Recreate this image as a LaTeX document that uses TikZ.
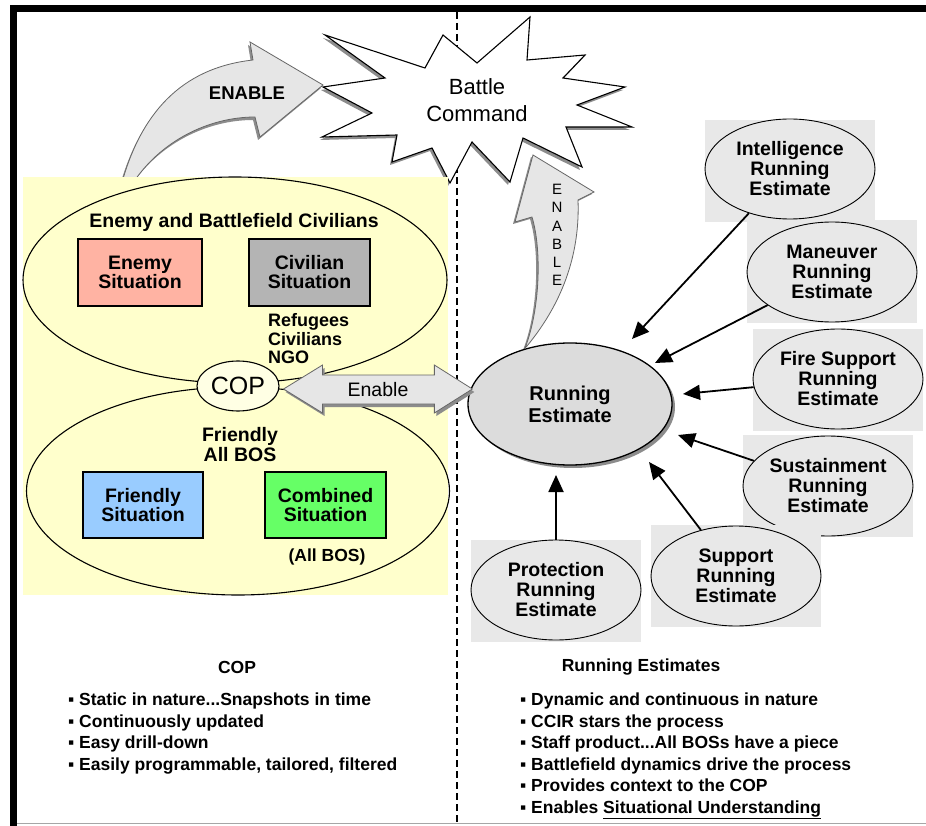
\documentclass[tikz,border=0pt]{standalone}
\usepackage{fontspec}
\setmainfont{Liberation Sans}
\usetikzlibrary{shapes.geometric,arrows.meta,calc}
\definecolor{panelyellow}{HTML}{FFFFCC}
\definecolor{copfill}{HTML}{FFFFE4}
\definecolor{enemyfill}{HTML}{FFB3A3}
\definecolor{civfill}{HTML}{B4B4B4}
\definecolor{friendfill}{HTML}{99CCFF}
\definecolor{combfill}{HTML}{66FF66}
\definecolor{satfill}{HTML}{E8E8E8}
\definecolor{refill}{HTML}{DCDCDC}
\definecolor{arrowfill}{HTML}{E6E6E6}
\definecolor{shadowgrey}{HTML}{8C8C8C}
\def\burstpth{(325,35) -- (425,68) -- (443,35) -- (477,63) -- (530,17) -- (527,60) -- (585,55) -- (563,78) -- (625,87) -- (577,105) -- (632,127) -- (566,127) -- (582,167) -- (523,138) -- (510,182) -- (472,142) -- (450,183) -- (432,148) -- (392,162) -- (397,135) -- (322,137) -- (372,113) -- (323,87) -- (385,78) -- cycle}
\def\topenablepth{(121,186) .. controls (140,115) and (180,68) .. (253,60) -- (250,42) -- (323,85) -- (260,137) -- (255,117) .. controls (210,117) and (160,140) .. (131,186) -- cycle}
\def\upenablepth{(525,348) .. controls (540,310) and (542,250) .. (532,217) -- (515,222) -- (533,155) -- (594,192) -- (578,200) .. controls (580,250) and (565,300) .. (527,346) -- cycle}
\def\dblpth{(enL) -- ++(39,-24) -- ++(0,10) -- ($(enR)+(-38,-14)$) -- ++(0,-10) -- (enR) -- ++(-38,24) -- ++(0,-9) -- ($(enL)+(39,15)$) -- ++(0,9) -- cycle}
\begin{document}
\begin{tikzpicture}[x=1pt,y=-1pt,
  lbl/.style={inner sep=0, align=center},
  sitbox/.style={draw, line width=1.1pt, inner sep=0, align=center, font=\bfseries\fontsize{19.5}{19}\selectfont},
  sat/.style={ellipse, draw, line width=0.9pt, inner sep=0, minimum width=170pt, minimum height=100pt, align=center, font=\bfseries\fontsize{19.5}{20}\selectfont},
  satbg/.style={fill=satfill, inner sep=0, minimum width=170pt, minimum height=102pt},
  feed/.style={line width=1.8pt, -{Triangle[length=17pt,width=15pt]}},
  fatarrow/.style={fill=arrowfill, draw=black!60, line width=0.8pt},
  zone/.style={draw, ellipse, line width=1.1pt, inner sep=0},
  listtext/.style={anchor=north west, inner sep=0, align=left, font=\bfseries\fontsize{17.5}{21.5}\selectfont}
]
\useasboundingbox (0,0) rectangle (926,826);
\fill[white] (0,0) rectangle (926,826);
% frame
\fill[black] (10,5) rectangle (17,826);
\fill[black] (10,5) rectangle (926,12);
\draw[black!35, line width=1pt] (17,823.5) -- (926,823.5);
\draw[line width=1.1pt, dash pattern=on 7pt off 4pt] (457,12) -- (457,823);

% top ENABLE arrow
\fill[shadowgrey, transform canvas={shift={(-2,3)}}] \topenablepth;
\filldraw[fatarrow] \topenablepth;
\node[lbl, font=\bfseries\fontsize{18.5}{18.5}\selectfont] (enabletop) at (247,93) {ENABLE};

% Battle Command burst
\fill[shadowgrey, transform canvas={shift={(-2,3)}}] \burstpth;
\filldraw[fill=white, draw=black, line width=1.1pt] \burstpth;
\node[lbl, font=\fontsize{22}{27}\selectfont] (bc) at (477,100) {Battle\\Command};

% upward ENABLE arrow
\fill[shadowgrey, transform canvas={shift={(-2,2)}}] \upenablepth;
\filldraw[fatarrow] \upenablepth;
\node[lbl, font=\fontsize{15}{18.3}\selectfont] (enableup) at (557,235) {E\\N\\A\\B\\L\\E};

% COP panel
\fill[panelyellow] (23,177) rectangle (448,595);
\node[zone, minimum width=424pt, minimum height=206pt] (enemyzone) at (235,280) {};
\node[zone, minimum width=423pt, minimum height=208pt] (friendzone) at (238,491) {};
\node[lbl, font=\bfseries\fontsize{19.5}{19.5}\selectfont] (enemytitle) at (234,222) {Enemy and Battlefield Civilians};
\node[sitbox, fill=enemyfill, minimum width=124pt, minimum height=67pt] (enemy) at (140,272.5) {Enemy\\Situation};
\node[sitbox, fill=civfill, minimum width=121pt, minimum height=67pt] (civ) at (309.5,272.5) {Civilian\\Situation};
\node[lbl, anchor=west, align=left, font=\bfseries\fontsize{18}{18.5}\selectfont] (refugees) at (268,339) {Refugees\\Civilians\\NGO};
\node[lbl, font=\bfseries\fontsize{19.5}{20}\selectfont] (friendtitle) at (240,445) {Friendly\\All BOS};
\node[sitbox, fill=friendfill, minimum width=120pt, minimum height=66pt] (friend) at (143,505) {Friendly\\Situation};
\node[sitbox, fill=combfill, minimum width=121pt, minimum height=66pt] (comb) at (325.5,505) {Combined\\Situation};
\node[lbl, font=\bfseries\fontsize{17.5}{17.5}\selectfont] (allbos) at (327,557) {(All BOS)};
\node[zone, fill=copfill, minimum width=82pt, minimum height=50pt, font=\fontsize{25}{25}\selectfont] (cop) at (238,386) {COP};

% Running Estimate
\fill[shadowgrey] (573,407) ellipse [x radius=102pt, y radius=61pt];
\node[ellipse, draw, line width=1.3pt, fill=refill, inner sep=0, minimum width=204pt, minimum height=122pt, align=center, font=\bfseries\fontsize{20}{22}\selectfont] (re) at (570,404) {Running\\Estimate};

% Enable double arrow
\coordinate (enL) at ($(cop.east)+(4,3)$);
\coordinate (enR) at ($(re.west)+(5,-15)$);
\fill[shadowgrey, transform canvas={shift={(2,3)}}] \dblpth;
\filldraw[fatarrow] \dblpth;
\node[lbl, font=\fontsize{19.5}{19.5}\selectfont] (enabletxt) at (378,390) {Enable};

% satellite estimates
\node[satbg] (intelbg) at (790,171) {};
\node[sat] (intel) at (790,169) {Intelligence\\Running\\Estimate};
\node[satbg] (manbg) at (832,271.5) {};
\node[sat] (man) at (832,272) {Maneuver\\Running\\Estimate};
\node[satbg] (firebg) at (838,380) {};
\node[sat] (fire) at (838,379) {Fire Support\\Running\\Estimate};
\node[satbg] (sustbg) at (828,486) {};
\node[sat] (sust) at (828,486) {Sustainment\\Running\\Estimate};
\node[satbg] (suppbg) at (736,576) {};
\node[sat] (supp) at (736,576) {Support\\Running\\Estimate};
\node[satbg] (protbg) at (556,590.5) {};
\node[sat] (prot) at (556,590) {Protection\\Running\\Estimate};

% feeds
\coordinate (tipI) at (632,339);
\coordinate (tipM) at (655,363);
\coordinate (tipF) at (683,394);
\coordinate (tipS) at (678,435);
\coordinate (tipU) at (649,462);
\coordinate (tipP) at (556,475);
\draw[feed] (intel) -- (tipI);
\draw[feed] (man) -- (tipM);
\draw[feed] (fire) -- (tipF);
\draw[feed] (sust) -- (tipS);
\draw[feed] (supp) -- (tipU);
\draw[feed] (prot) -- (tipP);

% bottom texts
\node[lbl, font=\bfseries\fontsize{17.5}{17.5}\selectfont] (coptitle) at (237,667) {COP};
\node[listtext] (coplist) at (68,693) {▪ Static in nature...Snapshots in time\\▪ Continuously updated\\▪ Easy drill-down\\▪ Easily programmable, tailored, filtered};
\node[lbl, font=\bfseries\fontsize{17.5}{17.5}\selectfont] (retitle) at (641,667) {Running Estimates};
\node[listtext] (relist) at (520,693) {▪ Dynamic and continuous in nature\\▪ CCIR stars the process\\▪ Staff product...All BOSs have a piece\\▪ Battlefield dynamics drive the process\\▪ Provides context to the COP\\▪ Enables \underline{Situational Understanding}};
\end{tikzpicture}
\end{document}
